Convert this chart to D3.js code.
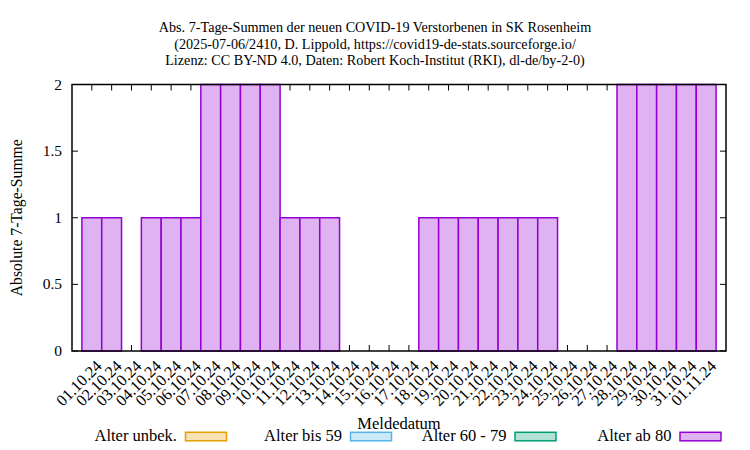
<!DOCTYPE html>
<html><head><meta charset="utf-8">
<script src="https://cdn.jsdelivr.net/npm/d3@7"></script>
<style>body{margin:0;background:#fff} svg text{font-family:"Liberation Serif","Times New Roman",serif;fill:#000}</style>
</head><body><svg id="c" width="750" height="450"></svg>
<script>
const dates = ["01.10.24","02.10.24","03.10.24","04.10.24","05.10.24","06.10.24","07.10.24","08.10.24","09.10.24","10.10.24","11.10.24","12.10.24","13.10.24","14.10.24","15.10.24","16.10.24","17.10.24","18.10.24","19.10.24","20.10.24","21.10.24","22.10.24","23.10.24","24.10.24","25.10.24","26.10.24","27.10.24","28.10.24","29.10.24","30.10.24","31.10.24","01.11.24"];
const values = [1,1,0,1,1,1,2,2,2,2,1,1,1,0,0,0,0,1,1,1,1,1,1,1,0,0,0,2,2,2,2,2];
const yTicks = [0,0.5,1,1.5,2];
const titleLines = ["Abs. 7-Tage-Summen der neuen COVID-19 Verstorbenen in SK Rosenheim","(2025-07-06/2410, D. Lippold, https://covid19-de-stats.sourceforge.io/","Lizenz: CC BY-ND 4.0, Daten: Robert Koch-Institut (RKI), dl-de/by-2-0)"];
const xLabel = "Meldedatum";
const yLabel = "Absolute 7-Tage-Summe";
const legendLabels = ["Alter unbek.","Alter bis 59","Alter 60 - 79","Alter ab 80"];
const legendStroke = ["#e69f00","#56b4e9","#009e73","#9400d3"];

const svg = d3.select("#c");
const L=72, R=726, T=84.5, B=351;
const x = d3.scaleLinear().domain([-1, 32]).range([L, R]);
const y = d3.scaleLinear().domain([0, 2]).range([B, T]);
const tint = c => { const k = d3.rgb(c); const a=0.3; return d3.rgb(255-a*(255-k.r),255-a*(255-k.g),255-a*(255-k.b)).formatHex(); };

// ticks (drawn under bars)
const g = svg.append("g");
dates.forEach((d,i)=>{
  g.append("line").attr("x1",x(i)).attr("x2",x(i)).attr("y1",B).attr("y2",B-6).attr("stroke","#000");
  g.append("line").attr("x1",x(i)).attr("x2",x(i)).attr("y1",T).attr("y2",T+6).attr("stroke","#000");
});
yTicks.forEach(v=>{
  g.append("line").attr("x1",L).attr("x2",L+6).attr("y1",y(v)).attr("y2",y(v)).attr("stroke","#000");
  g.append("line").attr("x1",R).attr("x2",R-6).attr("y1",y(v)).attr("y2",y(v)).attr("stroke","#000");
  g.append("text").attr("x",L-10).attr("y",y(v)+5).attr("text-anchor","end").style("font-size","15.5px").text(d3.format("")(v));
});

// bars
const barData = values.map((v,i)=>({i, v})).filter(d=>d.v>0);
svg.append("g").selectAll("rect").data(barData).join("rect")
  .attr("x",d=>x(d.i-0.5)).attr("width",x(1)-x(0))
  .attr("y",d=>y(d.v)).attr("height",d=>B-y(d.v))
  .attr("fill",tint(legendStroke[3])).attr("stroke",legendStroke[3]).attr("stroke-width",1.5);

// frame
svg.append("rect").attr("x",L).attr("y",T).attr("width",R-L).attr("height",B-T)
  .attr("fill","none").attr("stroke","#000").attr("stroke-width",1.5);

// x tick labels
dates.forEach((d,i)=>{
  svg.append("text").attr("transform",`translate(${x(i)+3},${B+8}) rotate(-45)`)
    .attr("text-anchor","end").attr("dy","0.7em").style("font-size","16.2px").text(d);
});

// titles
titleLines.forEach((t,i)=>{
  svg.append("text").attr("x",375).attr("y",32+i*16.5).attr("text-anchor","middle").style("font-size","14.2px").text(t);
});
svg.append("text").attr("x",(L+R)/2).attr("y",429).attr("text-anchor","middle").style("font-size","16.5px").text(xLabel);
svg.append("text").attr("transform",`translate(22,${(T+B)/2}) rotate(-90)`).attr("text-anchor","middle").style("font-size","15.7px").text(yLabel);

// legend
const legX = [177, 342, 506.5, 671.5];
legendLabels.forEach((t,i)=>{
  svg.append("text").attr("x",legX[i]).attr("y",441).attr("text-anchor","end").style("font-size","16.5px").text(t);
  svg.append("rect").attr("x",legX[i]+8.5).attr("y",432.3).attr("width",41).attr("height",8.5)
    .attr("fill",tint(legendStroke[i])).attr("stroke",legendStroke[i]).attr("stroke-width",1.5);
});
</script></body></html>
